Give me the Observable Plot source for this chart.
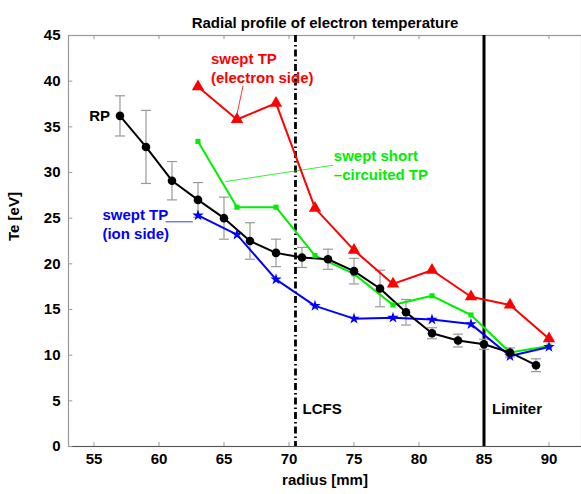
<!DOCTYPE html>
<html>
<head>
<meta charset="utf-8">
<script src="https://cdn.jsdelivr.net/npm/d3@7"></script>
<script src="https://cdn.jsdelivr.net/npm/@observablehq/plot@0.6"></script>
<style>
  html, body { margin: 0; padding: 0; background: #fff; }
  #chart svg { display: block; }
</style>
</head>
<body>
<div id="chart"></div>
<script>
// ---- data ----
const rpRadius = [57, 59, 61, 63, 65, 67, 69, 71, 73, 75, 77, 79, 81, 83, 85, 87, 89];
const rpTe     = [36.2, 32.8, 29.1, 27.0, 25.0, 22.5, 21.2, 20.7, 20.5, 19.2, 17.3, 14.7, 12.4, 11.6, 11.2, 10.3, 8.9];
const rpErr    = [2.2, 4.0, 2.1, 1.9, 2.3, 2.0, 1.5, 1.1, 1.1, 1.4, 2.0, 1.4, 0.6, 0.7, 0.55, 0.5, 0.7];

const tpRadius      = [63, 66, 69, 72, 75, 78, 81, 84, 87, 90];
const electronSideTe = [39.4, 35.8, 37.6, 26.1, 21.5, 17.8, 19.3, 16.4, 15.5, 11.8];
const shortCircTe    = [33.4, 26.2, 26.2, 20.9, 18.9, 15.5, 16.5, 14.4, 10.3, 11.0];
const ionSideTe      = [25.3, 23.2, 18.3, 15.4, 14.0, 14.1, 13.9, 13.4, 9.9, 10.9];

const xTicks = [55, 60, 65, 70, 75, 80, 85, 90];
const yTicks = [0, 5, 10, 15, 20, 25, 30, 35, 40, 45];
const lcfsRadius = 70.5;
const limiterRadius = 85;

const title = "Radial profile of electron temperature";
const xLabel = "radius [mm]";
const yLabel = "Te [eV]";

// ---- tables ----
const rp = rpRadius.map((r, i) => ({r, te: rpTe[i], lo: rpTe[i] - rpErr[i], hi: rpTe[i] + rpErr[i]}));
const mk = arr => tpRadius.map((r, i) => ({r, te: arr[i]}));
const electron = mk(electronSideTe);
const shortc = mk(shortCircTe);
const ion = mk(ionSideTe);

const capSymbol = {
  draw(ctx, size) {
    const w = Math.sqrt(size / Math.PI);
    ctx.moveTo(-w, 0);
    ctx.lineTo(w, 0);
  }
};

const FONT = "Liberation Sans, Arial, Helvetica, sans-serif";
const RED = "#ff0000", GREEN = "#00ee00", BLUE = "#0000ff";
const XMIN = 53.04, XMAX = 92.5;

const chart = Plot.plot({
  width: 581,
  height: 494,
  marginLeft: 68,
  marginRight: 0,
  marginTop: 35,
  marginBottom: 48,
  style: {fontFamily: FONT, fontWeight: "bold", fontSize: "15px", background: "#fff", color: "#000"},
  x: {domain: [XMIN, XMAX]},
  y: {domain: [0, 45]},
  marks: [
    Plot.frame({stroke: "#999", strokeWidth: 1.2}),
    Plot.ruleY([0], {stroke: "#555", strokeWidth: 1.2}),
    // inward ticks
    Plot.ruleX(xTicks, {x: d => d, y1: 0, y2: 0.45, stroke: "#999"}),
    Plot.ruleX(xTicks, {x: d => d, y1: 45, y2: 44.55, stroke: "#999"}),
    Plot.ruleY(yTicks, {y: d => d, x1: XMIN, x2: XMIN + 0.33, stroke: "#999"}),
    Plot.axisX(xTicks, {tickSize: 0, tickPadding: 7, label: null, fontSize: 15, fontWeight: "bold"}),
    Plot.axisY(yTicks, {tickSize: 0, tickPadding: 8, label: null, fontSize: 15, fontWeight: "bold"}),
    // vertical reference lines
    Plot.ruleX([lcfsRadius], {stroke: "#000", strokeWidth: 2.8, strokeDasharray: "7,3,1.5,3"}),
    Plot.ruleX([limiterRadius], {stroke: "#000", strokeWidth: 3}),
    // error bars
    Plot.ruleX(rp, {x: "r", y1: "lo", y2: "hi", stroke: "#999", strokeWidth: 1.2}),
    Plot.dot(rp, {x: "r", y: "lo", symbol: capSymbol, r: 5, stroke: "#999", strokeWidth: 1.2}),
    Plot.dot(rp, {x: "r", y: "hi", symbol: capSymbol, r: 5, stroke: "#999", strokeWidth: 1.2}),
    // leaders
    Plot.link([0], {x1: 66.47, y1: 39.5, x2: 66.0, y2: 36.4, stroke: RED, strokeWidth: 0.8}),
    Plot.link([0], {x1: 73.4, y1: 30.8, x2: 65.1, y2: 29.0, stroke: GREEN, strokeWidth: 0.8}),
    Plot.link([0], {x1: 60.5, y1: 24.6, x2: 62.6, y2: 24.6, stroke: BLUE, strokeWidth: 0.8}),
    // series
    Plot.line(electron, {x: "r", y: "te", stroke: RED, strokeWidth: 2}),
    Plot.line(shortc, {x: "r", y: "te", stroke: GREEN, strokeWidth: 2}),
    Plot.line(ion, {x: "r", y: "te", stroke: BLUE, strokeWidth: 2}),
    Plot.line(rp, {x: "r", y: "te", stroke: "#000", strokeWidth: 2}),
    Plot.dot(electron, {x: "r", y: "te", symbol: "triangle", r: 4.6, fill: RED}),
    Plot.dot(shortc, {x: "r", y: "te", symbol: "square", r: 2.9, fill: GREEN}),
    Plot.dot(ion, {x: "r", y: "te", symbol: "star", r: 3.6, fill: BLUE}),
    Plot.dot(rp, {x: "r", y: "te", r: 4.3, fill: "#000"}),
    // annotations
    Plot.text(["RP"], {x: 57, y: 36.2, dx: -10, textAnchor: "end", fill: "#000", fontSize: 15}),
    Plot.text(["swept TP\n(electron side)"], {x: 64.0, y: 41.5, textAnchor: "start", lineHeight: 1.27, fill: RED, fontSize: 15}),
    Plot.text(["swept short\n\u2013circuited TP"], {x: 73.45, y: 30.9, textAnchor: "start", lineHeight: 1.27, fill: GREEN, fontSize: 15}),
    Plot.text(["swept TP\n(ion side)"], {x: 55.65, y: 24.45, textAnchor: "start", lineHeight: 1.27, fill: BLUE, fontSize: 15}),
    Plot.text(["LCFS"], {x: lcfsRadius, y: 4.06, dx: 7, textAnchor: "start", fill: "#000", fontSize: 15}),
    Plot.text(["Limiter"], {x: limiterRadius, y: 4.06, dx: 8, textAnchor: "start", fill: "#000", fontSize: 15}),
    // titles
    Plot.text([title], {frameAnchor: "top", dy: -18, fill: "#000", fontSize: 15}),
    Plot.text([xLabel], {frameAnchor: "bottom", dy: 38, fill: "#000", fontSize: 15}),
    Plot.text([yLabel], {frameAnchor: "left", dx: -54, rotate: -90, fill: "#000", fontSize: 15})
  ]
});
document.getElementById("chart").appendChild(chart);
</script>
</body>
</html>
